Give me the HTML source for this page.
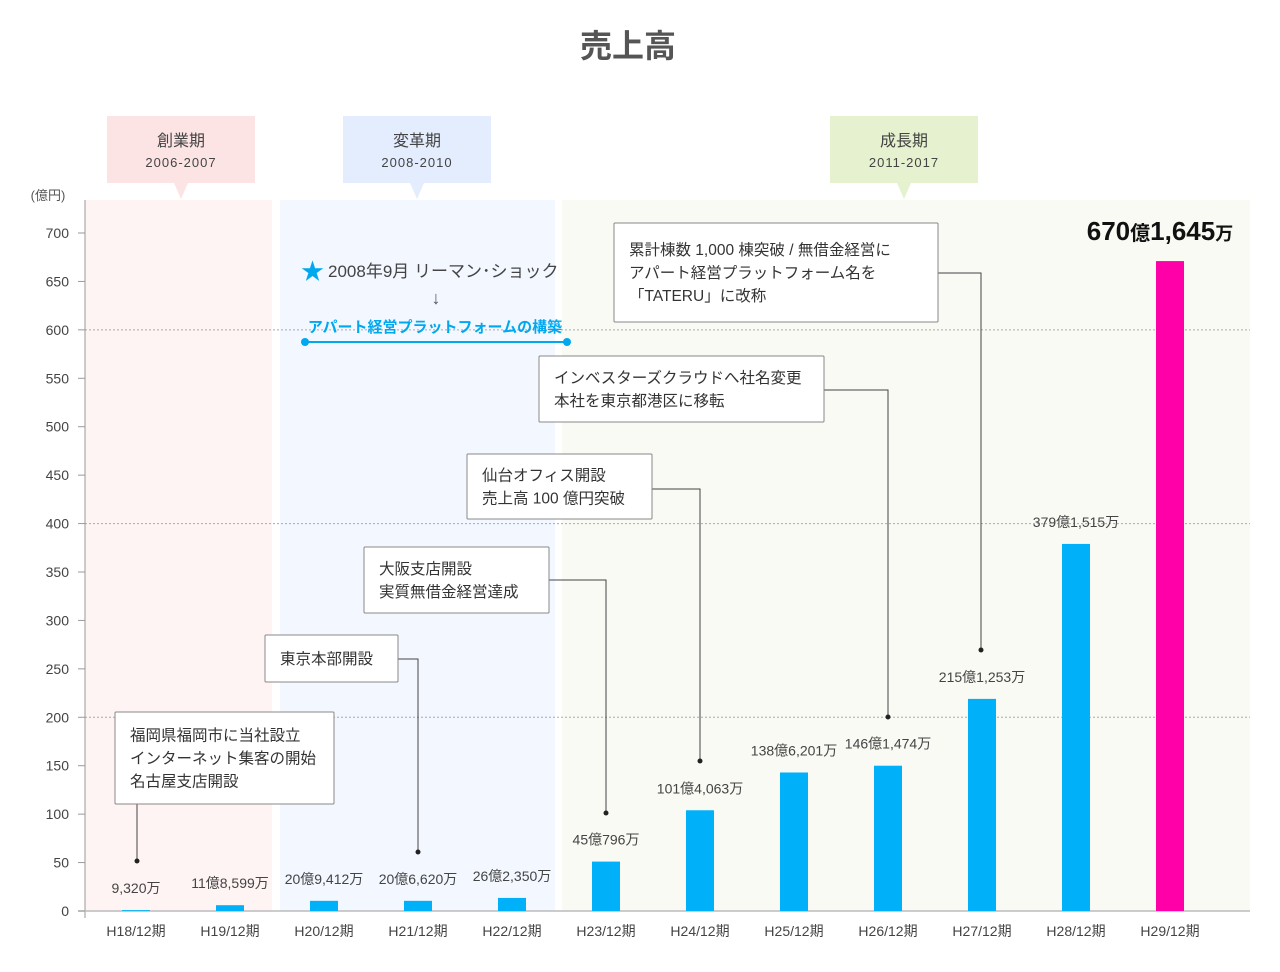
<!DOCTYPE html>
<html><head><meta charset="utf-8"><style>
body{margin:0;background:#fff;font-family:"Liberation Sans","Noto Sans CJK JP",sans-serif;}
svg text{font-family:"Liberation Sans","Noto Sans CJK JP",sans-serif;}
</style></head><body>
<svg id="c" width="1280" height="967" xmlns="http://www.w3.org/2000/svg">
<text x="628" y="57" text-anchor="middle" font-size="32" font-weight="bold" fill="#555">売上高</text>
<rect x="85" y="200" width="187" height="711" fill="#fff4f4"/>
<rect x="280" y="200" width="275" height="711" fill="#f3f7ff"/>
<rect x="562" y="200" width="688" height="711" fill="#f9faf4"/>
<g>
<rect x="107" y="116" width="148" height="67" fill="#fde4e4"/><path d="M174 183 L181 199 L188 183Z" fill="#fde4e4"/>
<text x="181" y="146" text-anchor="middle" font-size="16" fill="#444">創業期</text>
<text x="181" y="167" text-anchor="middle" font-size="13" fill="#444" letter-spacing="1">2006-2007</text></g>
<g>
<rect x="343" y="116" width="148" height="67" fill="#e3edfd"/><path d="M410 183 L417 199 L424 183Z" fill="#e3edfd"/>
<text x="417" y="146" text-anchor="middle" font-size="16" fill="#444">変革期</text>
<text x="417" y="167" text-anchor="middle" font-size="13" fill="#444" letter-spacing="1">2008-2010</text></g>
<g>
<rect x="830" y="116" width="148" height="67" fill="#e6f1cf"/><path d="M897 183 L904 199 L911 183Z" fill="#e6f1cf"/>
<text x="904" y="146" text-anchor="middle" font-size="16" fill="#444">成長期</text>
<text x="904" y="167" text-anchor="middle" font-size="13" fill="#444" letter-spacing="1">2011-2017</text></g>
<text x="48" y="200" text-anchor="middle" font-size="13" fill="#555">(億円)</text>
<g id="grid"></g><g id="axes"></g><g id="bars"></g>
<g>
<text x="301" y="279" font-size="23" fill="#00a8f0">★</text>
<text x="328" y="277" font-size="17" fill="#444">2008年9月 リーマン･ショック</text>
<text x="436" y="304" text-anchor="middle" font-size="18" fill="#555">↓</text>
<text x="435" y="332" text-anchor="middle" font-size="15" font-weight="bold" fill="#00a8f0">アパート経営プラットフォームの構築</text>
<line x1="305" y1="342" x2="567" y2="342" stroke="#00a8f0" stroke-width="2"/>
<circle cx="305" cy="342" r="4" fill="#00a8f0"/><circle cx="567" cy="342" r="4" fill="#00a8f0"/></g>
<g id="notes" font-size="15.5" fill="#333"></g>
<text x="1160" y="240" text-anchor="middle" fill="#111" font-weight="bold"><tspan font-size="26">670</tspan><tspan font-size="20">億</tspan><tspan font-size="26">1,645</tspan><tspan font-size="18">万</tspan></text>
</svg>
<script>
const categories=["H18/12期","H19/12期","H20/12期","H21/12期","H22/12期","H23/12期","H24/12期","H25/12期","H26/12期","H27/12期","H28/12期","H29/12期"];
const sales=[0.9,6,10.5,10.5,13.5,51,104,143,150,219,379,671];
const valueLabels=["9,320万","11億8,599万","20億9,412万","20億6,620万","26億2,350万","45億796万","101億4,063万","138億6,201万","146億1,474万","215億1,253万","379億1,515万",""];
const yTicks=[0,50,100,150,200,250,300,350,400,450,500,550,600,650,700];
const gridVals=[200,400,600];
const NS="http://www.w3.org/2000/svg";
const y=v=>911-v*(678/700);
const x=i=>136+i*94;
function mk(p,t,a){const e=document.createElementNS(NS,t);for(const k in a)e.setAttribute(k,a[k]);p.appendChild(e);return e;}
const grid=document.getElementById('grid'),axes=document.getElementById('axes'),bars=document.getElementById('bars');
gridVals.forEach(v=>{const l=mk(grid,'line',{x1:85,x2:1250,y1:y(v),y2:y(v),stroke:'#aaa','stroke-dasharray':'2,2'});

});
const ya=mk(axes,'line',{x1:85,x2:85,y1:200,y2:918,stroke:'#999'});


const xa=mk(axes,'line',{x1:78,x2:1250,y1:911,y2:911,stroke:'#bbb','stroke-width':1.5});


yTicks.forEach(v=>{mk(axes,'line',{x1:78,x2:85,y1:y(v),y2:y(v),stroke:'#999'});
const t=mk(axes,'text',{x:69,y:y(v)+5,'text-anchor':'end','font-size':14,fill:'#444'});t.textContent=v;

});
categories.forEach((c,i)=>{
const r=mk(bars,'rect',{x:x(i)-14,y:y(sales[i]),width:28,height:911-y(sales[i]),fill:i==11?'#ff00a8':'#00b0f8'});


const t=mk(axes,'text',{x:x(i),y:936,'text-anchor':'middle','font-size':14,fill:'#444'});t.textContent=c;


if(valueLabels[i]){const lb=mk(bars,'text',{x:x(i),y:y(sales[i])-17,'text-anchor':'middle','font-size':14,fill:'#444'});lb.textContent=valueLabels[i];

}});
const notes=document.getElementById('notes');
const noteDefs=[
{b:[115,712,219,92],lines:["福岡県福岡市に当社設立","インターネット集客の開始","名古屋支店開設"],path:"M137 804 L137 861",dot:[137,861]},
{b:[265,635,133,47],lines:["東京本部開設"],path:"M398 659 L418 659 L418 852",dot:[418,852]},
{b:[364,547,185,66],lines:["大阪支店開設","実質無借金経営達成"],path:"M549 580 L606 580 L606 813",dot:[606,813]},
{b:[467,454,185,65],lines:["仙台オフィス開設","売上高 100 億円突破"],path:"M652 489 L700 489 L700 761",dot:[700,761]},
{b:[539,356,285,66],lines:["インベスターズクラウドへ社名変更","本社を東京都港区に移転"],path:"M824 390 L888 390 L888 717",dot:[888,717]},
{b:[614,223,324,99],lines:["累計棟数 1,000 棟突破 / 無借金経営に","アパート経営プラットフォーム名を","「TATERU」に改称"],path:"M938 273 L981 273 L981 650",dot:[981,650]}];
noteDefs.forEach(n=>{const g=mk(notes,'g',{});


mk(g,'path',{d:n.path,stroke:'#444',fill:'none'});mk(g,'circle',{cx:n.dot[0],cy:n.dot[1],r:2.5,fill:'#222'});
mk(g,'rect',{x:n.b[0],y:n.b[1],width:n.b[2],height:n.b[3],fill:'#fff',stroke:'#888',rx:1});
const h=n.b[3],k=n.lines.length,top=n.b[1]+(h-k*23)/2+17;
n.lines.forEach((s,j)=>{const t=mk(g,'text',{x:n.b[0]+15,y:top+j*23});t.textContent=s;});});
</script>
</body></html>
